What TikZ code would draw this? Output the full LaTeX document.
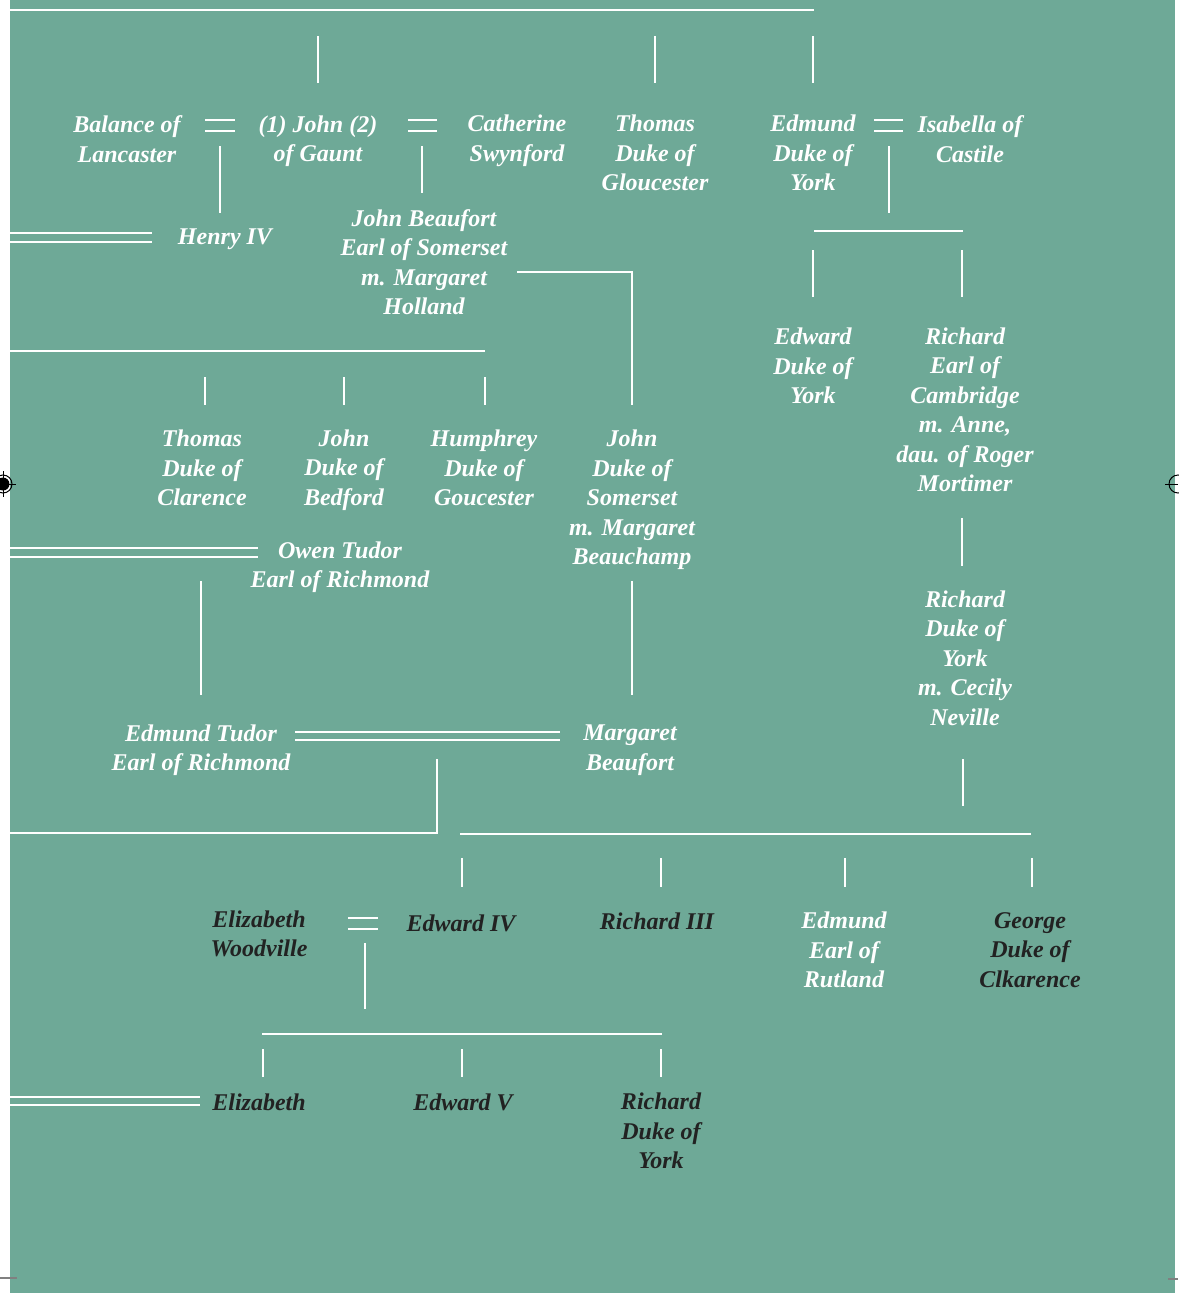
\documentclass[tikz,border=0pt]{standalone}
\usepackage{fontspec}
\setmainfont{Liberation Serif}
\definecolor{bg}{RGB}{110,169,151}
\definecolor{ink}{RGB}{34,34,34}
\begin{document}
\begin{tikzpicture}[x=1pt,y=-1pt,
  lbl/.style={font=\fontsize{24}{29.5}\selectfont\bfseries\itshape, text=white, align=center, inner sep=0pt},
  dark/.style={lbl, text=ink},
  ln/.style={draw=white, line width=2.8pt},
]
\useasboundingbox (0,0) rectangle (1178,1293);
\fill[white] (0,0) rectangle (1178,1293);
\fill[bg] (10,0) rectangle (1175,1293);
% printer marks
\draw[line width=1pt] (3,484) circle (9);
\fill[black] (3,484) circle (6.5);
\draw[line width=0.6pt] (-10,484) -- (16,484) (3,471) -- (3,497);
\draw[line width=1pt] (1178,484) circle (9);
\draw[line width=0.6pt] (1165,484) -- (1178,484);
\draw[gray, line width=1.5pt] (0,1278) -- (17,1278);
\draw[gray, line width=1.5pt] (1168,1279) -- (1178,1279);

% ---- nodes ----
\node[lbl] (blanche) at (127,139) {Balance of\\Lancaster};
\node[lbl] (gaunt) at (318,141) {(1) John (2)\\of Gaunt};
\node[lbl] (cath) at (517,141) {Catherine\\Swynford};
\node[lbl] (thglou) at (655,153) {Thomas\\Duke of\\Gloucester};
\node[lbl] (edyork) at (813,153) {Edmund\\Duke of\\York};
\node[lbl] (isab) at (970,139) {Isabella of\\Castile};
\node[lbl] (henry) at (225,239) {Henry IV};
\node[lbl] (jbeau) at (424,262) {John Beaufort\\Earl of Somerset\\m. Margaret\\Holland};
\node[lbl] (edwy) at (813,366) {Edward\\Duke of\\York};
\node[lbl] (rcamb) at (965,410) {Richard\\Earl of\\Cambridge\\m. Anne,\\dau. of Roger\\Mortimer};
\node[lbl] (ryork) at (965,658) {Richard\\Duke of\\York\\m. Cecily\\Neville};
\node[lbl] (thcla) at (202,468) {Thomas\\Duke of\\Clarence};
\node[lbl] (jbed) at (344,470) {John\\Duke of\\Bedford};
\node[lbl] (humph) at (484,468) {Humphrey\\Duke of\\Goucester};
\node[lbl] (jsom) at (632,500) {John\\Duke of\\Somerset\\m. Margaret\\Beauchamp};
\node[lbl] (owen) at (340,567) {Owen Tudor\\Earl of Richmond};
\node[lbl] (etudor) at (201,750) {Edmund Tudor\\Earl of Richmond};
\node[lbl] (mbeau) at (630,750) {Margaret\\Beaufort};
\node[dark] (ewood) at (259,934) {Elizabeth\\Woodville};
\node[dark] (ed4) at (461,923) {Edward IV};
\node[dark] (r3) at (657,921) {Richard III};
\node[lbl] (erut) at (844,950) {Edmund\\Earl of\\Rutland};
\node[dark] (geo) at (1030,950) {George\\Duke of\\Clkarence};
\node[dark] (eliz) at (259,1102) {Elizabeth};
\node[dark] (ed5) at (463,1102) {Edward V};
\node[dark] (ryk2) at (661,1131) {Richard\\Duke of\\York};

% ---- junction coordinates ----
\coordinate (top0) at (10,10);  \coordinate (top1) at (814,10);
\foreach \n/\x in {a/318,b/655,c/813}{
  \coordinate (tk\n0) at (\x,36); \coordinate (tk\n1) at (\x,83);}
% marriage signs
\foreach \n/\xa/\xb/\y in {m1/205/235/120, m2/408/437/120, m3/874/903/120, m4/348/378/918}{
  \coordinate (\n a) at (\xa,\y); \coordinate (\n b) at (\xb,\y);
  \coordinate (\n c) at (\xa,\y+11); \coordinate (\n d) at (\xb,\y+11);}
\coordinate (v1a) at (220,146); \coordinate (v1b) at (220,213);
\coordinate (v2a) at (422,146); \coordinate (v2b) at (422,193);
\coordinate (v3a) at (889,146); \coordinate (v3b) at (889,213);
\coordinate (h1a) at (10,233); \coordinate (h1b) at (152,233);
\coordinate (h1c) at (10,242); \coordinate (h1d) at (152,242);
\coordinate (jb0) at (517,272); \coordinate (jb1) at (632,272); \coordinate (jb2) at (632,405);
\coordinate (eb0) at (814,231); \coordinate (eb1) at (963,231);
\foreach \n/\x in {d/813,e/962}{
  \coordinate (tk\n0) at (\x,250); \coordinate (tk\n1) at (\x,297);}
\coordinate (v4a) at (962,518); \coordinate (v4b) at (962,566);
\coordinate (v5a) at (963,759); \coordinate (v5b) at (963,806);
\coordinate (hb0) at (10,351); \coordinate (hb1) at (485,351);
\foreach \n/\x in {f/205,g/344,h/485}{
  \coordinate (tk\n0) at (\x,377); \coordinate (tk\n1) at (\x,405);}
\coordinate (o1a) at (10,548); \coordinate (o1b) at (258,548);
\coordinate (o1c) at (10,557); \coordinate (o1d) at (258,557);
\coordinate (v6a) at (201,581); \coordinate (v6b) at (201,695);
\coordinate (v7a) at (632,581); \coordinate (v7b) at (632,695);
\coordinate (t1a) at (295,732); \coordinate (t1b) at (560,732);
\coordinate (t1c) at (295,740); \coordinate (t1d) at (560,740);
\coordinate (tt0) at (437,759); \coordinate (tt1) at (437,833); \coordinate (tt2) at (10,833);
\coordinate (yb0) at (460,834); \coordinate (yb1) at (1031,834);
\foreach \n/\x in {i/462,j/661,k/845,l/1032}{
  \coordinate (tk\n0) at (\x,858); \coordinate (tk\n1) at (\x,887);}
\coordinate (v8a) at (365,943); \coordinate (v8b) at (365,1009);
\coordinate (bb0) at (262,1034); \coordinate (bb1) at (662,1034);
\foreach \n/\x in {m/263,n/462,o/661}{
  \coordinate (tk\n0) at (\x,1049); \coordinate (tk\n1) at (\x,1077);}
\coordinate (e1a) at (10,1097); \coordinate (e1b) at (200,1097);
\coordinate (e1c) at (10,1105); \coordinate (e1d) at (200,1105);

% ---- connectors ----
\draw[ln] (top0) -- (top1);
\foreach \n in {a,b,c,d,e,f,g,h,i,j,k,l,m,n,o}{ \draw[ln] (tk\n0) -- (tk\n1); }
\foreach \n in {m1,m2,m3,m4}{ \draw[ln] (\n a) -- (\n b); \draw[ln] (\n c) -- (\n d); }
\foreach \n in {v1,v2,v3,v4,v5,v6,v7,v8}{ \draw[ln] (\n a) -- (\n b); }
\foreach \n in {h1,o1,t1,e1}{ \draw[ln] (\n a) -- (\n b); \draw[ln] (\n c) -- (\n d); }
\draw[ln] (jb0) -- (jb1) -- (jb2);
\draw[ln] (eb0) -- (eb1);
\draw[ln] (hb0) -- (hb1);
\draw[ln] (tt0) -- (tt1) -- (tt2);
\draw[ln] (yb0) -- (yb1);
\draw[ln] (bb0) -- (bb1);
\end{tikzpicture}
\end{document}
